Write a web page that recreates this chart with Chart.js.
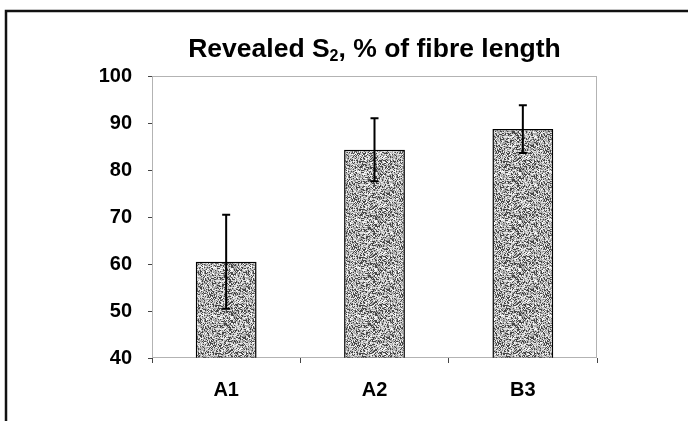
<!DOCTYPE html>
<html>
<head>
<meta charset="utf-8">
<script src="https://cdn.jsdelivr.net/npm/chart.js@4"></script>
<style>
  html, body { margin: 0; padding: 0; background: #fff; }
  canvas { display: block; }
</style>
</head>
<body>
<canvas id="chart" width="688" height="421"></canvas>
<script>
"use strict";

const categories = ['A1', 'A2', 'B3'];
const meanValues = [60.5, 84.3, 88.7];
const errorValues = [10.0, 6.7, 5.1];
const yTicks = [40, 50, 60, 70, 80, 90, 100];
const titleParts = ['Revealed S', '2', ', % of fibre length'];

const FONT = 'Liberation Sans, Arial, sans-serif';

// stippled grey fill, like the scanned print
function stipple() {
  const c = document.createElement('canvas');
  c.width = 48; c.height = 48;
  const ctx = c.getContext('2d');
  const shades = [70, 135, 170, 200, 225, 250];
  for (let y = 0; y < 48; y++) {
    for (let x = 0; x < 48; x++) {
      let h = (x * 374761393 + y * 668265263) >>> 0;
      h = ((h ^ (h >>> 13)) * 1274126177) >>> 0;
      const g = shades[(h >>> 7) % shades.length];
      ctx.fillStyle = `rgb(${g},${g},${g})`;
      ctx.fillRect(x, y, 1, 1);
    }
  }
  return ctx.createPattern(c, 'repeat');
}

const framePlugin = {
  id: 'frame',
  beforeDraw(chart) {
    const ctx = chart.ctx;
    ctx.save();
    ctx.strokeStyle = '#111';
    ctx.lineWidth = 2.5;
    ctx.beginPath();
    ctx.moveTo(6, 421);
    ctx.lineTo(6, 11);
    ctx.lineTo(688, 11);
    ctx.stroke();

    // title with a real subscript, centred on the plot
    const a = chart.chartArea;
    const big = 'bold 26.5px ' + FONT;
    const small = 'bold 16px ' + FONT;
    ctx.font = big;
    const w0 = ctx.measureText(titleParts[0]).width;
    const w2 = ctx.measureText(titleParts[2]).width;
    ctx.font = small;
    const w1 = ctx.measureText(titleParts[1]).width;
    let x = (a.left + a.right) / 2 - (w0 + w1 + w2) / 2;
    const base = 57;
    ctx.fillStyle = '#000';
    ctx.textBaseline = 'alphabetic';
    ctx.textAlign = 'left';
    ctx.font = big;
    ctx.fillText(titleParts[0], x, base);
    x += w0;
    ctx.font = small;
    ctx.fillText(titleParts[1], x, base + 4);
    x += w1;
    ctx.font = big;
    ctx.fillText(titleParts[2], x, base);
    ctx.restore();
  },
  afterDatasetsDraw(chart) {
    const { ctx, chartArea: a, scales } = chart;
    ctx.save();
    ctx.strokeStyle = '#666';
    ctx.lineWidth = 1;
    ctx.setLineDash([1, 1]);
    ctx.strokeRect(a.left + 0.5, a.top + 0.5, a.right - a.left - 1, a.bottom - a.top - 1);
    ctx.setLineDash([]);
    // error bars
    ctx.strokeStyle = '#000';
    ctx.lineWidth = 2;
    meanValues.forEach((v, i) => {
      const x = scales.x.getPixelForValue(i);
      const yHi = scales.y.getPixelForValue(v + errorValues[i]);
      const yLo = scales.y.getPixelForValue(v - errorValues[i]);
      ctx.beginPath();
      ctx.moveTo(x, yHi); ctx.lineTo(x, yLo);
      ctx.moveTo(x - 4, yHi); ctx.lineTo(x + 4, yHi);
      ctx.moveTo(x - 4, yLo); ctx.lineTo(x + 4, yLo);
      ctx.stroke();
    });
    ctx.restore();
  }
};

new Chart(document.getElementById('chart'), {
  type: 'bar',
  data: {
    labels: categories,
    datasets: [{
      data: meanValues,
      backgroundColor: stipple(),
      borderColor: '#000',
      borderWidth: 1.5,
      borderSkipped: false,
      categoryPercentage: 1,
      barPercentage: 0.41
    }]
  },
  options: {
    responsive: false,
    animation: false,
    layout: { padding: { top: 76, right: 91, left: 0, bottom: 0 } },
    plugins: {
      legend: { display: false },
      tooltip: { enabled: false },
      title: { display: false }
    },
    scales: {
      x: {
        grid: { offset: true, drawOnChartArea: false, drawTicks: true, tickLength: 5, color: '#444' },
        border: { display: false },
        ticks: {
          color: '#000',
          padding: 15,
          font: { family: FONT, size: 20, weight: 'bold' }
        },
        afterFit(s) { s.height = 63; }
      },
      y: {
        min: 40,
        max: 100,
        afterBuildTicks(s) { s.ticks = yTicks.map(v => ({ value: v })); },
        grid: { drawOnChartArea: false, drawTicks: true, tickLength: 4, color: '#444' },
        border: { display: false },
        ticks: {
          color: '#000',
          padding: 16,
          font: { family: FONT, size: 20, weight: 'bold' }
        },
        afterFit(s) { s.width = 152; }
      }
    }
  },
  plugins: [framePlugin]
});
</script>
</body>
</html>
